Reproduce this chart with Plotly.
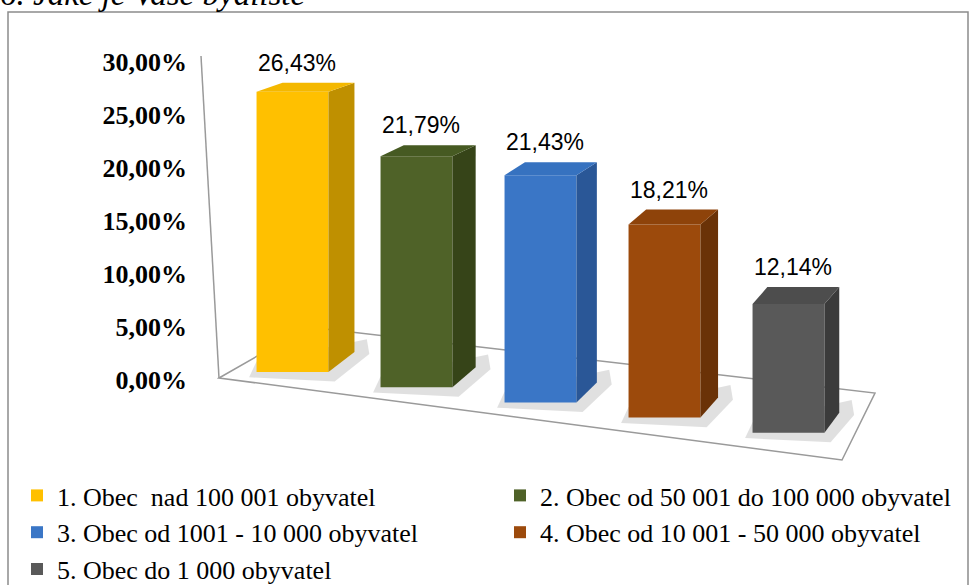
import plotly.graph_objects as go

# ---- data -------------------------------------------------------------
categories = [
    "1. Obec\u00a0 nad 100 001 obyvatel",
    "2. Obec od 50 001 do 100 000 obyvatel",
    "3. Obec od 1001 - 10 000 obyvatel",
    "4. Obec od 10 001 - 50 000 obyvatel",
    "5. Obec do 1 000 obyvatel",
]
shares = [26.43, 21.79, 21.43, 18.21, 12.14]
tick_values = [0, 5, 10, 15, 20, 25, 30]

# ---- styling ----------------------------------------------------------
front_colors = ["#FFC000", "#4F6228", "#3A76C6", "#9C4A0C", "#595959"]
side_colors = ["#BF9000", "#364418", "#2A5797", "#6A3207", "#3B3B3B"]
top_colors = ["#F4B800", "#465A22", "#3672C0", "#8E430A", "#4D4D4D"]

W, H = 976, 585
L, R, T, B = 200, 972, 40, 462          # plot area in page pixels
PX_PER_PCT = 10.6                       # vertical scale
ZERO_Y = 380                            # pixel row of the 0 % tick
SLOT = 124                              # horizontal distance between bars
FIRST_X = 292.5                         # pixel column of the first bar
BAR_W = 0.58                            # bar width in category units

x_range = [(L - FIRST_X) / SLOT, (R - FIRST_X) / SLOT]
y_range = [(ZERO_Y - B) / PX_PER_PCT, (ZERO_Y - T) / PX_PER_PCT]

# floor of the 3-D box tilts down towards the right
FLOOR_LIFT = 0.755
FLOOR_DROP = 1.434
bases = [FLOOR_LIFT - FLOOR_DROP * i for i in range(len(shares))]


def px_to_data(px, py):
    return (px - FIRST_X) / SLOT, (ZERO_Y - py) / PX_PER_PCT


def px_to_paper(px, py):
    return (px - L) / (R - L), (B - py) / (B - T)


def fmt(v):
    return f"{v:.2f}".replace(".", ",") + "%"


fig = go.Figure()
shapes = []
annotations = []

# floor outline
floor_px = [(219, 378), (308, 327), (875, 393), (842, 460)]
fpts = [px_to_data(*p) for p in floor_px]
path = "M " + " L ".join(f"{x},{y}" for x, y in fpts) + " Z"
shapes.append(dict(type="path", path=path, xref="x", yref="y",
                   line=dict(color="#9a9a9a", width=1.5), layer="below"))

# slanted value axis line
ax0 = px_to_data(219, 378)
ax1 = px_to_data(201, 56)
shapes.append(dict(type="line", xref="x", yref="y", x0=ax0[0], y0=ax0[1],
                   x1=ax1[0], y1=ax1[1], line=dict(color="#9a9a9a", width=1.5),
                   layer="below"))

for i, (name, v, b) in enumerate(zip(categories, shares, bases)):
    xl, xr = i - BAR_W / 2, i + BAR_W / 2
    top = b + v
    dx = (26 - 2.8 * i) / SLOT
    dyt = (9 + 2 * i) / PX_PER_PCT
    dyb = 20 / PX_PER_PCT

    # soft shadow at the foot of each bar
    sh = [(xl - 0.06, b - 0.5), (xr + 0.05, b - 0.9), (xr + dx + 0.12, b + dyb - 0.2),
          (xr + dx + 0.1, b + dyb + 1.2), (xl, b + 1.0)]
    shapes.append(dict(type="path", xref="x", yref="y", layer="below",
                       path="M " + " L ".join(f"{x},{y}" for x, y in sh) + " Z",
                       fillcolor="rgba(0,0,0,0.12)", line=dict(width=0)))

    fig.add_trace(go.Bar(
        x=[i], y=[v], base=[b], width=BAR_W, name=name,
        marker=dict(color=front_colors[i], line=dict(width=0)),
        hovertemplate=f"{name}: {fmt(v)}<extra></extra>",
    ))
    # right side face
    fig.add_trace(go.Scatter(
        x=[xr, xr + dx, xr + dx, xr, xr],
        y=[b, b + dyb, top + dyt, top, b],
        mode="lines", fill="toself", fillcolor=side_colors[i],
        line=dict(width=0, color=side_colors[i]), showlegend=False, hoverinfo="skip",
    ))
    # top face
    fig.add_trace(go.Scatter(
        x=[xl, xl + dx, xr + dx, xr, xl],
        y=[top, top + dyt, top + dyt, top, top],
        mode="lines", fill="toself", fillcolor=top_colors[i],
        line=dict(width=0, color=top_colors[i]), showlegend=False, hoverinfo="skip",
    ))
    annotations.append(dict(
        x=i + 0.04, y=top, xref="x", yref="y", text=fmt(v), showarrow=False,
        yanchor="bottom", yshift=(9 + 2 * i) + 5,
        font=dict(family="Liberation Sans, Arial", size=23, color="#000000"),
    ))

# outer frame
f0 = px_to_paper(8, 12)
f1 = px_to_paper(968, 620)
shapes.append(dict(type="rect", xref="paper", yref="paper", x0=f0[0], y0=f0[1],
                   x1=f1[0], y1=f1[1], line=dict(color="#8c8c8c", width=1.5),
                   fillcolor="rgba(0,0,0,0)", layer="below"))

# heading, partly above the page edge
tx, ty = px_to_paper(-2, -6)
annotations.append(dict(
    x=tx, y=ty, xref="paper", yref="paper", xanchor="left", yanchor="middle",
    text="<i>6. Jaké je Vaše bydliště</i>", showarrow=False,
    font=dict(family="Liberation Serif, Times New Roman", size=33, color="#000000"),
))

lx, ly = px_to_paper(17, 472)

fig.update_layout(
    width=W, height=H,
    margin=dict(l=L, r=W - R, t=T, b=H - B, pad=0, autoexpand=False),
    paper_bgcolor="white", plot_bgcolor="rgba(0,0,0,0)",
    separators=", ",
    barmode="overlay",
    showlegend=True,
    legend=dict(
        orientation="h", x=lx, y=ly, xanchor="left", yanchor="top",
        entrywidth=438, entrywidthmode="pixels", itemwidth=30,
        font=dict(family="Liberation Serif, Times New Roman", size=26, color="#000000"),
        bgcolor="rgba(0,0,0,0)", borderwidth=0, traceorder="normal",
    ),
    xaxis=dict(range=x_range, visible=False, fixedrange=True),
    yaxis=dict(
        range=y_range, tickvals=tick_values,
        ticktext=[fmt(t) for t in tick_values],
        showgrid=False, zeroline=False, showline=False, ticks="",
        ticklabelstandoff=12,
        tickfont=dict(family="Liberation Serif, Times New Roman", size=26,
                      color="#000000", weight="bold"),
        fixedrange=True,
    ),
    shapes=shapes,
    annotations=annotations,
)

fig.write_html("out.html")
